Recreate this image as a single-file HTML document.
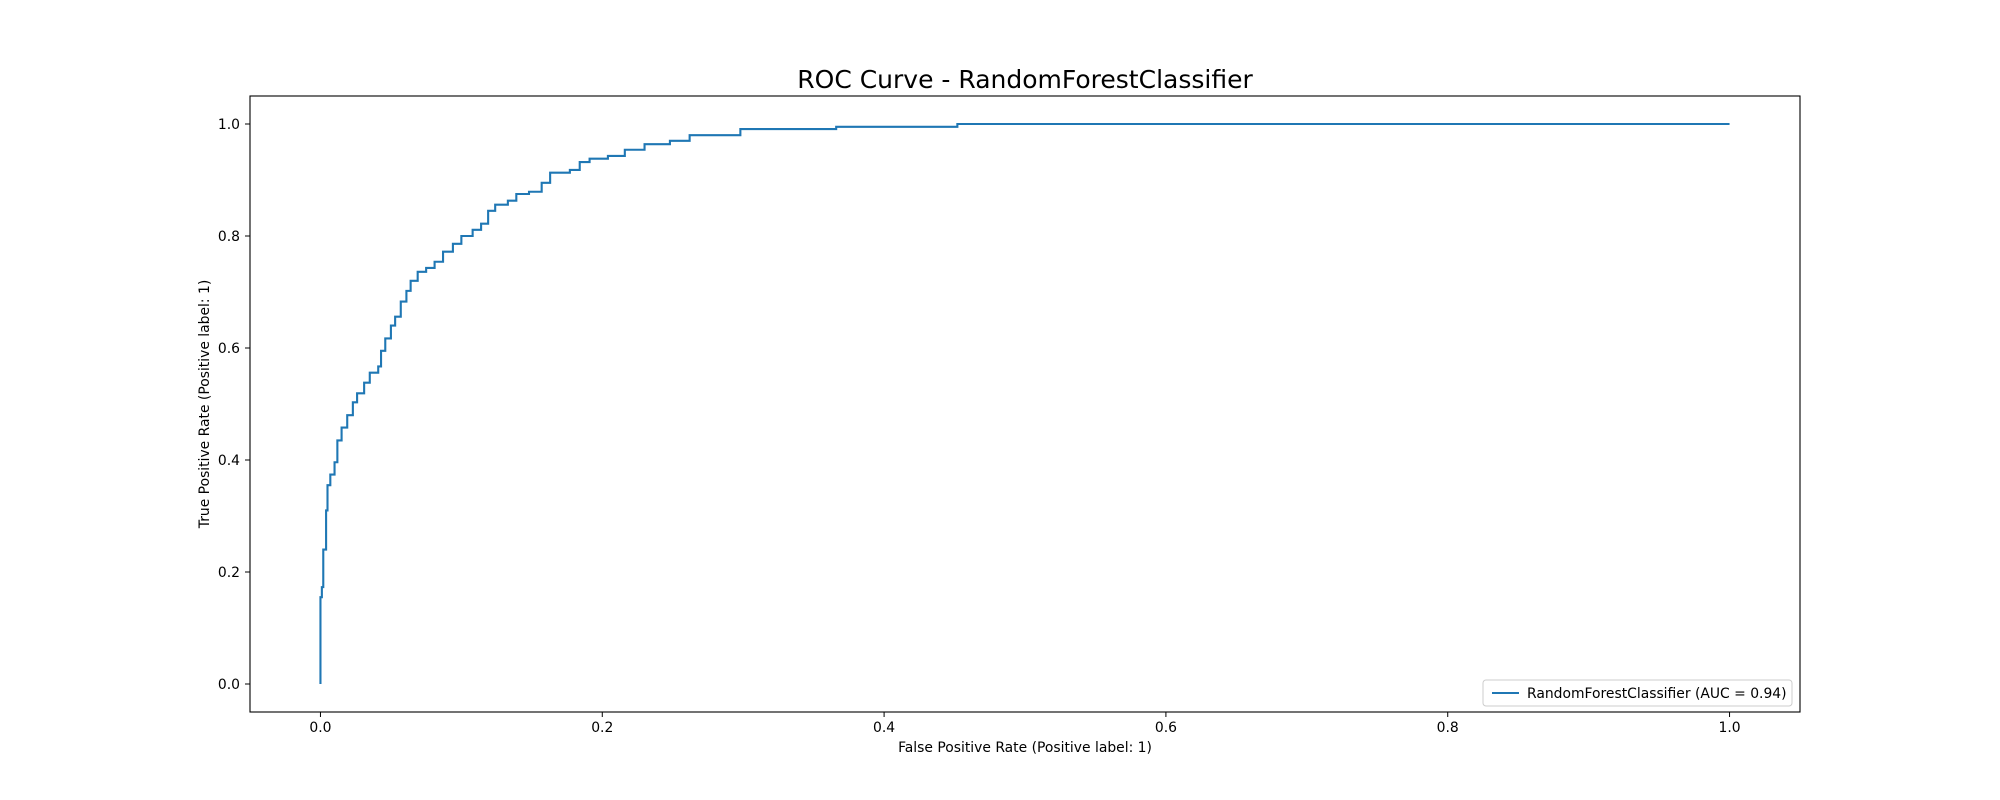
<!DOCTYPE html>
<html><head><meta charset="utf-8"><style>
body{margin:0;background:#fff;}
svg{display:block;font-family:"DejaVu Sans","Liberation Sans",sans-serif;}
</style></head><body>
<svg id="chart" width="2000" height="800" viewBox="0 0 2000 800" xmlns="http://www.w3.org/2000/svg">
<rect width="2000" height="800" fill="#fff"/>
<text x="1025" y="88" font-size="25" text-anchor="middle" fill="#000">ROC Curve - RandomForestClassifier</text>
<g id="ticks"></g>
<path id="curve" fill="none" stroke="#1f77b4" stroke-width="2.1" stroke-linejoin="miter"/>
<rect x="250" y="96" width="1550" height="616" fill="none" stroke="#000" stroke-width="1.1"/>
<text x="1025" y="752" font-size="13.9" text-anchor="middle">False Positive Rate (Positive label: 1)</text>
<text x="0" y="0" font-size="13.9" text-anchor="middle" transform="translate(209,404) rotate(-90)">True Positive Rate (Positive label: 1)</text>
<g>
<rect x="1483" y="680" width="309" height="26" rx="3" fill="#fff" fill-opacity="0.8" stroke="#ccc"/>
<line x1="1492" y1="693" x2="1519" y2="693" stroke="#1f77b4" stroke-width="2.1"/>
<text x="1527" y="698" font-size="13.9">RandomForestClassifier (AUC = 0.94)</text>
</g>
</svg>
<script>
const fpr=[0,0,0.001,0.002,0.004,0.005,0.007,0.01,0.012,0.015,0.019,0.023,0.026,0.031,0.035,0.041,0.043,0.046,0.05,0.053,0.057,0.061,0.064,0.069,0.075,0.081,0.087,0.094,0.1,0.108,0.114,0.119,0.124,0.133,0.139,0.148,0.157,0.163,0.177,0.184,0.191,0.204,0.216,0.23,0.248,0.262,0.298,0.366,0.452,1.0];
const tpr=[0,0.155,0.173,0.24,0.31,0.355,0.374,0.396,0.435,0.458,0.48,0.503,0.519,0.538,0.556,0.567,0.595,0.617,0.64,0.656,0.683,0.702,0.72,0.736,0.743,0.754,0.772,0.786,0.8,0.811,0.822,0.845,0.856,0.863,0.875,0.879,0.895,0.913,0.918,0.932,0.938,0.943,0.954,0.964,0.97,0.98,0.991,0.995,1.0,1.0];
const tickVals=[0,0.2,0.4,0.6,0.8,1.0];
const tickLabels=["0.0","0.2","0.4","0.6","0.8","1.0"];
const X=v=>250+(v+0.05)/1.1*1550;
const Y=v=>712-(v+0.05)/1.1*616;
const NS="http://www.w3.org/2000/svg";
let d="M"+X(fpr[0])+","+Y(tpr[0]);
for(let i=1;i<fpr.length;i++){d+=" L"+X(fpr[i])+","+Y(tpr[i-1])+" L"+X(fpr[i])+","+Y(tpr[i]);}
document.getElementById('curve').setAttribute('d',d);
const g=document.getElementById('ticks');
tickVals.forEach((v,i)=>{
 const l=document.createElementNS(NS,'line');
 l.setAttribute('x1',X(v));l.setAttribute('x2',X(v));l.setAttribute('y1',712);l.setAttribute('y2',717);l.setAttribute('stroke','#000');
 
 
 g.appendChild(l);
 const t=document.createElementNS(NS,'text');
 t.setAttribute('x',X(v));t.setAttribute('y',732);t.setAttribute('font-size','13.9');t.setAttribute('text-anchor','middle');t.textContent=tickLabels[i];
 
 
 g.appendChild(t);
 const l2=document.createElementNS(NS,'line');
 l2.setAttribute('x1',245);l2.setAttribute('x2',250);l2.setAttribute('y1',Y(v));l2.setAttribute('y2',Y(v));l2.setAttribute('stroke','#000');
 
 
 g.appendChild(l2);
 const t2=document.createElementNS(NS,'text');
 t2.setAttribute('x',240);t2.setAttribute('y',Y(v)+5);t2.setAttribute('font-size','13.9');t2.setAttribute('text-anchor','end');t2.textContent=tickLabels[i];
 
 
 g.appendChild(t2);
});
</script>
</body></html>
